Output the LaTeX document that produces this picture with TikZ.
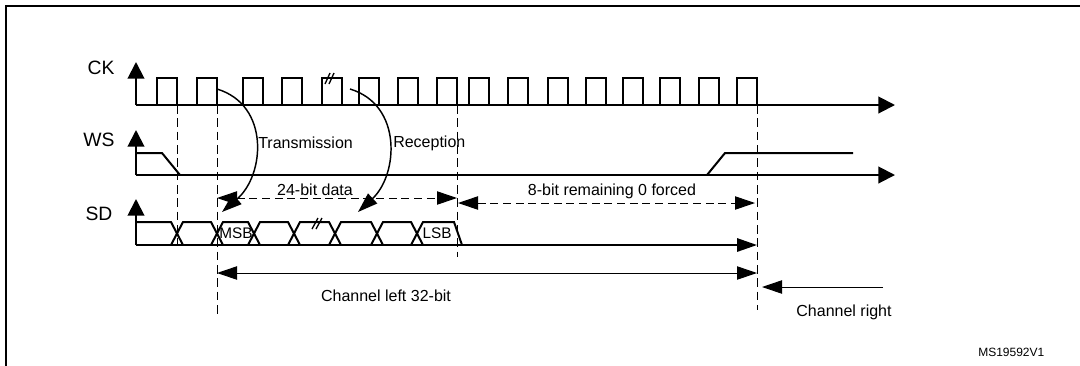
\documentclass[tikz,border=0pt]{standalone}
\usepackage{fontspec}
\setmainfont{Liberation Sans}
\usetikzlibrary{arrows.meta, calc}

\begin{document}
\begin{tikzpicture}[
  x=0.75pt, y=-0.75pt,
  font=\fontsize{12}{14}\selectfont,
  wave/.style={line width=1.5pt},
  axis/.style={line width=1.5pt, -{Triangle[length=12.5pt, width=12.5pt]}},
  guide/.style={line width=0.75pt, dash pattern=on 6.5pt off 3.5pt},
  dimtip/.style={{Triangle[length=15pt, width=10pt]}-{Triangle[length=15pt, width=10pt]}},
  dimdash/.style={dimtip, line width=0.75pt, dash pattern=on 6pt off 3.5pt},
  dimline/.style={dimtip, line width=0.75pt},
  flow/.style={line width=1.1pt, -{Triangle[length=15pt, width=10pt]}},
  brk/.style={line width=1pt},
  sig/.style={font=\fontsize{14.5}{16}\selectfont},
  cell/.style={font=\fontsize{11.5}{13}\selectfont, inner sep=0pt},
]
\useasboundingbox (0,0) rectangle (1080,365);
\clip (0,0) rectangle (1080,365);
% frame
\draw[line width=1.6pt] (6,400) -- (6,6) -- (1100,6);

% --- time marks and rows ---
\coordinate (t1) at (177,105);
\coordinate (t2) at (217,105);
\coordinate (t3) at (457,105);
\coordinate (t4) at (757,105);
\coordinate (r24) at (0,198);
\coordinate (r8) at (0,203);
\coordinate (rcl) at (0,273);

% --- CK ---
\node[sig] (CK) at (101,68) {CK};
\draw[axis] (136,105) -- (136,62);
\draw[axis] (136,105) -- (895,105);
\foreach \p in {157,197,243,282,322,359,398,437,469,508,548,586,623,660,699,737}
  \draw[wave] (\p,105) -- (\p,78) -- ({\p+20},78) -- ({\p+20},105);
\draw[brk] (325,84) -- (330,73) (329,84) -- (334,73);

% --- WS ---
\node[sig] (WS) at (99,140) {WS};
\draw[axis] (136,175) -- (136,130);
\draw[axis] (136,175) -- (895,175);
\draw[wave] (136,153) -- (162,153) -- (180,175);
\draw[wave] (707,175) -- (725,153) -- (853,153);

% --- SD ---
\node[sig] (SD) at (99,214) {SD};
\draw[axis] (136,245) -- (136,199);
\draw[wave, -{Triangle[length=15pt, width=10pt]}] (136,245) -- (757,245);
\draw[wave] (136,222)
  foreach \c in {177,217,254,294,335,377,417} { -- ({\c-6},222) -- ({\c+6},245) ({\c-6},245) -- ({\c+6},222) }
  -- (454,222) -- (462,245);
\draw[brk] (312,229) -- (318,218) (316,229) -- (322,218);
\node[cell] (MSB) at (236,233) {MSB};
\node[cell] (LSB) at (437,233) {LSB};

% --- guides ---
\draw[guide] (t1) -- ++(0,140);
\draw[guide] (t2) -- ++(0,210);
\draw[guide] (t3) -- ++(0,152);
\draw[guide] (t4) -- ++(0,205);

% --- transmission / reception ---
\draw[flow] (217,89) .. controls (270,105) and (265,175) .. (222,212);
\node[anchor=west, inner sep=0pt] (TX) at (258,143) {Transmission};
\draw[flow] (350,89) .. controls (403,105) and (398,175) .. (358,212);
\node[anchor=west, inner sep=0pt] (RX) at (393,143) {Reception};

% --- frame lengths ---
\draw[dimdash] (t2 |- r24) -- (t3 |- r24);
\node (D24) at (315,190) {24-bit data};
\draw[dimdash] ($(t3 |- r8)+(1,0)$) -- ($(t4 |- r8)+(-2,0)$);
\node (D8) at (612,191) {8-bit remaining 0 forced};
\draw[dimline] (t2 |- rcl) -- (t4 |- rcl);
\node (CL) at (386,296) {Channel left 32-bit};
\coordinate (crs) at (883,287);
\draw[line width=0.75pt, -{Triangle[length=15pt, width=10pt]}] (crs) -- ($(t4 |- crs)+(5,0)$);
\node (CR) at (844,312) {Channel right};

\node[anchor=east, font=\fontsize{9}{11}\selectfont] (ID) at (1049,352) {MS19592V1};
\end{tikzpicture}
\end{document}
